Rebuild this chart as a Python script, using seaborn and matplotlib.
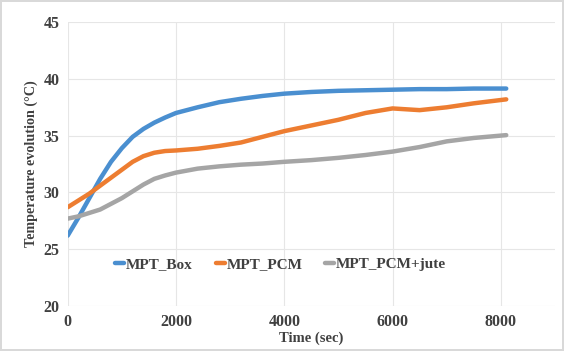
import matplotlib
matplotlib.use("Agg")
import matplotlib.pyplot as plt
import seaborn as sns
import pandas as pd

# Time points (sec) and temperature readings (°C)
times = [0, 200, 400, 600, 800, 1000, 1200, 1400, 1600, 1800, 2000, 2400,
         2800, 3200, 3600, 4000, 4500, 5000, 5500, 6000, 6500, 7000, 7500, 8100]
mpt_box = [26.2, 27.8, 29.5, 31.2, 32.7, 33.9, 34.9, 35.6, 36.15, 36.6, 37.0, 37.5,
           37.95, 38.25, 38.5, 38.7, 38.85, 38.95, 39.0, 39.05, 39.1, 39.1, 39.15, 39.15]
mpt_pcm = [28.7, 29.3, 29.9, 30.6, 31.3, 32.0, 32.7, 33.2, 33.5, 33.65, 33.7, 33.85,
           34.1, 34.4, 34.9, 35.4, 35.9, 36.4, 37.0, 37.4, 37.25, 37.5, 37.85, 38.2]
mpt_jute = [27.7, 27.9, 28.2, 28.5, 29.0, 29.5, 30.1, 30.7, 31.2, 31.5, 31.75, 32.1,
            32.3, 32.45, 32.55, 32.7, 32.85, 33.05, 33.3, 33.6, 34.0, 34.5, 34.8, 35.05]
series_names = ["MPT_Box", "MPT_PCM", "MPT_PCM+jute"]
colors = ["#4A8FD0", "#ED7D31", "#A5A5A5"]

df = pd.DataFrame({"time": times * 3,
                   "temp": mpt_box + mpt_pcm + mpt_jute,
                   "series": sum([[n] * len(times) for n in series_names], [])})

sns.set_style("whitegrid", {"grid.color": "#e6e6e6"})
plt.rcParams["font.family"] = ["Liberation Serif", "DejaVu Serif"]

fig = plt.figure(figsize=(5.64, 3.51), dpi=100)
fig.patch.set_edgecolor("#d9d9d9")
fig.patch.set_linewidth(1.5)
ax = fig.add_axes([0.12, 0.128, 0.864, 0.809])

sns.lineplot(data=df, x="time", y="temp", hue="series", palette=colors,
             linewidth=3.2, ax=ax)

ax.set_xlim(0, 9000)
ax.set_ylim(20, 45)
ax.set_xticks([0, 2000, 4000, 6000, 8000])
ax.set_yticks([20, 25, 30, 35, 40, 45])
for s in ax.spines.values():
    s.set_visible(False)
ax.tick_params(length=0, labelsize=11.5, colors="#404040", pad=6)
for lab in ax.get_xticklabels() + ax.get_yticklabels():
    lab.set_fontweight("bold")

ax.set_xlabel("Time (sec)", fontsize=10.5, fontweight="bold", color="#404040", labelpad=1)
ax.set_ylabel("Temperature evolution (°C)", fontsize=10.2, fontweight="bold", color="#404040")

leg = ax.legend(loc="center", bbox_to_anchor=(0.437, 0.148), ncol=3, frameon=False,
                handlelength=0.6, handletextpad=0.1, columnspacing=1.5,
                prop={"weight": "bold", "size": 11})
for t in leg.get_texts():
    t.set_color("#404040")

fig.savefig("out.png", dpi=100)
